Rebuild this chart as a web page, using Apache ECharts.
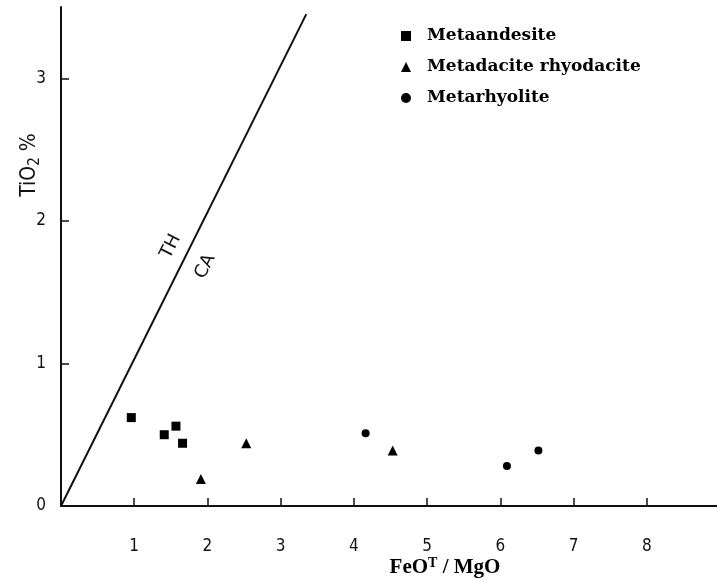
<!DOCTYPE html>
<html lang="en">
<head>
    <meta charset="UTF-8">
    <title>TiO2 vs FeOT/MgO</title>
    <script src="https://cdn.jsdelivr.net/npm/echarts@6.0.0/dist/echarts.min.js"></script>
    <style>
        html, body { margin: 0; padding: 0; background: #fff; }
        #chart { width: 717px; height: 583px; }
    </style>
</head>
<body>
    <div id="chart"></div>
    <script>
        // data: [FeOT/MgO, TiO2 %]
        const metaandesite = [[0.96, 0.62], [1.41, 0.50], [1.57, 0.56], [1.66, 0.44]];
        const metadacite = [[1.91, 0.19], [2.53, 0.44], [4.53, 0.39]];
        const metarhyolite = [[4.16, 0.51], [6.09, 0.28], [6.52, 0.39]];
        // TH / CA dividing line
        const thcaLine = [[0, 0], [3.35, 3.45]];
        const xTicks = [1, 2, 3, 4, 5, 6, 7, 8];
        const yTicks = [0, 1, 2, 3];
        const seriesNames = ['Metaandesite', 'Metadacite rhyodacite', 'Metarhyolite'];

        const chart = echarts.init(document.getElementById('chart'));
        const ink = '#111';
        const tickFont = { color: ink, fontFamily: 'DejaVu Sans Condensed', fontSize: 17 };
        const markStyle = { color: '#000', opacity: 1 };

        const option = {
            backgroundColor: '#fff',
            animation: false,
            grid: { left: 61, right: -3, top: 7, bottom: 77, containLabel: false, outerBoundsMode: 'none' },
            legend: {
                data: seriesNames,
                orient: 'vertical',
                left: 396,
                top: 21,
                itemWidth: 10,
                itemHeight: 10,
                itemGap: 11,
                itemStyle: { opacity: 1 },
                textStyle: {
                    color: '#000',
                    fontFamily: 'DejaVu Serif',
                    fontWeight: 'bold',
                    fontSize: 17,
                    lineHeight: 20,
                    padding: [0, 0, 0, 11]
                }
            },
            xAxis: {
                type: 'value',
                min: 0,
                max: 9,
                splitLine: { show: false },
                axisLine: { lineStyle: { color: ink, width: 2 } },
                axisTick: { inside: true, length: 8, customValues: xTicks, lineStyle: { color: ink, width: 1.5 } },
                axisLabel: Object.assign({ margin: 32, customValues: xTicks }, tickFont)
            },
            yAxis: {
                type: 'value',
                min: 0,
                max: 3.5,
                splitLine: { show: false },
                axisLine: { lineStyle: { color: ink, width: 2 } },
                axisTick: { inside: true, length: 8, customValues: [1, 2, 3], lineStyle: { color: ink, width: 1.5 } },
                axisLabel: Object.assign({ margin: 15, customValues: yTicks }, tickFont)
            },
            series: [
                {
                    type: 'line',
                    name: 'TH-CA',
                    data: thcaLine,
                    symbol: 'none',
                    lineStyle: { color: ink, width: 2 }
                },
                {
                    type: 'scatter',
                    name: seriesNames[0],
                    data: metaandesite,
                    symbol: 'rect',
                    symbolSize: 9,
                    itemStyle: markStyle
                },
                {
                    type: 'scatter',
                    name: seriesNames[1],
                    data: metadacite,
                    symbol: 'triangle',
                    symbolSize: 10,
                    itemStyle: markStyle
                },
                {
                    type: 'scatter',
                    name: seriesNames[2],
                    data: metarhyolite,
                    symbol: 'circle',
                    symbolSize: 8,
                    itemStyle: markStyle
                }
            ]
        };
        chart.setOption(option);

        // annotations placed through the chart's own coordinate system
        const thPos = chart.convertToPixel({ gridIndex: 0 }, [1.5, 1.82]);
        const caPos = chart.convertToPixel({ gridIndex: 0 }, [1.97, 1.68]);
        const lineAngle = Math.atan2(3.45 * 142.7, 3.35 * 73.25);
        const noteFont = { fill: ink, fontFamily: 'DejaVu Sans', fontSize: 18, align: 'center', verticalAlign: 'middle' };

        chart.setOption({
            graphic: [
                { type: 'text', x: thPos[0], y: thPos[1], rotation: lineAngle, style: Object.assign({ text: 'TH' }, noteFont) },
                { type: 'text', x: caPos[0], y: caPos[1], rotation: lineAngle, style: Object.assign({ text: 'CA' }, noteFont) },
                {
                    type: 'text', x: 30, y: 165, rotation: Math.PI / 2,
                    style: {
                        text: 'TiO{sub|2} %',
                        fill: ink, fontFamily: 'DejaVu Sans Condensed', fontSize: 21,
                        align: 'center', verticalAlign: 'middle',
                        rich: { sub: { fontSize: 15, padding: [10, 0, 0, 0], fontFamily: 'DejaVu Sans Condensed', fill: ink } }
                    }
                },
                {
                    type: 'text', x: 445, y: 568,
                    style: {
                        text: 'FeO{sup|T} / MgO',
                        fill: '#000', fontFamily: 'Liberation Serif', fontWeight: 'bold', fontSize: 21,
                        align: 'center', verticalAlign: 'middle',
                        rich: { sup: { fontSize: 14, fontWeight: 'bold', fontFamily: 'Liberation Serif', padding: [0, 0, 10, 0], fill: '#000' } }
                    }
                }
            ]
        });
    </script>
</body>
</html>
